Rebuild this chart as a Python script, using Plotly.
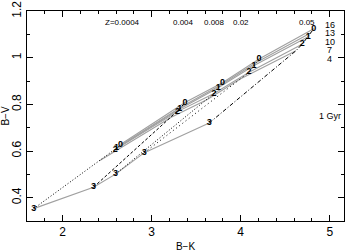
import plotly.graph_objects as go

# Metallicities and ages
Z_labels = ["Z=0.0004", "0.004", "0.008", "0.02", "0.05"]
Z_label_x = [2.67, 3.36, 3.71, 4.00, 4.74]
ages = [1, 4, 7, 10, 13, 16]

# B-K and B-V along each age track (ages 1,4,7,10,13,16 Gyr) for each Z
bk_z1 = [1.675, 2.414, 2.590, 2.605, 2.625, 2.650]
bv_z1 = [0.353, 0.558, 0.607, 0.612, 0.618, 0.628]
bk_z2 = [2.347, 3.220, 3.290, 3.315, 3.336, 3.374]
bv_z2 = [0.445, 0.745, 0.769, 0.780, 0.790, 0.808]
bk_z3 = [2.594, 3.620, 3.700, 3.747, 3.770, 3.795]
bv_z3 = [0.501, 0.820, 0.847, 0.871, 0.882, 0.893]
bk_z4 = [2.918, 4.000, 4.094, 4.150, 4.180, 4.206]
bv_z4 = [0.593, 0.910, 0.938, 0.967, 0.981, 0.995]
bk_z5 = [3.646, 4.620, 4.690, 4.758, 4.790, 4.820]
bv_z5 = [0.720, 1.030, 1.058, 1.090, 1.107, 1.124]

BK = [bk_z1, bk_z2, bk_z3, bk_z4, bk_z5]
BV = [bv_z1, bv_z2, bv_z3, bv_z4, bv_z5]
track_dash = ["1px,2px", "3px,2px", "1px,2px", "1px,3px", "4px,2px,1px,2px"]

# digit symbols placed at ages
digit_text = ["3", "2", "1", "0"]
digit_age_index = [0, 2, 3, 5]

# right-hand age labels
age_labels = ["16", "13", "10", "7", "4", "1 Gyr"]
age_label_y = [1.140, 1.108, 1.069, 1.034, 0.996, 0.752]

fig = go.Figure()

# isochrones (grey, connecting Z at fixed age)
for j in range(len(ages)):
    fig.add_trace(go.Scatter(
        x=[BK[i][j] for i in range(5)], y=[BV[i][j] for i in range(5)],
        mode="lines", line=dict(color="#a0a0a0", width=1.1), hoverinfo="skip"))

# age tracks (black, fixed Z)
for i in range(5):
    fig.add_trace(go.Scatter(
        x=BK[i], y=BV[i], mode="lines",
        line=dict(color="black", width=1, dash=track_dash[i]), hoverinfo="skip"))

# digit markers
for i in range(5):
    fig.add_trace(go.Scatter(
        x=[BK[i][k] for k in digit_age_index], y=[BV[i][k] for k in digit_age_index],
        mode="text", text=["<b>%s</b>" % d for d in digit_text],
        textfont=dict(family="Liberation Sans", size=9, color="black"),
        hoverinfo="skip"))

for t, xx in zip(Z_labels, Z_label_x):
    fig.add_annotation(x=xx, y=1.150, text=t, showarrow=False, borderpad=0,
                       font=dict(family="Liberation Sans", size=8, color="black"))
for t, yy in zip(age_labels, age_label_y):
    fig.add_annotation(x=5.0, y=yy, text=t, showarrow=False, borderpad=0,
                       font=dict(family="Liberation Sans", size=9, color="black"))

axis_common = dict(showline=True, linecolor="black", linewidth=1, mirror="allticks",
                   ticks="inside", ticklen=6, tickwidth=1, tickcolor="black",
                   showgrid=False, zeroline=False, ticklabeloverflow="allow",
                   tickfont=dict(family="Liberation Sans", size=12, color="black"))

fig.update_xaxes(range=[1.6, 5.16], dtick=1, tick0=0,
                 minor=dict(dtick=0.2, ticks="inside", ticklen=3, tickcolor="black", showgrid=False),
                 title=dict(text="B\u2212K", font=dict(family="Liberation Sans", size=10, color="black"), standoff=4),
                 **axis_common)
fig.update_yaxes(range=[0.3, 1.2005], dtick=0.2, tick0=0, tickangle=-90,
                 minor=dict(dtick=0.1, ticks="inside", ticklen=3, tickcolor="black", showgrid=False),
                 title=dict(text="B\u2212V", font=dict(family="Liberation Sans", size=10, color="black"), standoff=2),
                 **axis_common)

fig.update_layout(width=346, height=252, showlegend=False,
                  margin=dict(l=27, r=1, t=9, b=31),
                  plot_bgcolor="white", paper_bgcolor="white")

fig.write_html("out.html", config={"displayModeBar": False},
               post_script="document.body.style.margin='0';document.body.style.overflow='hidden';")
